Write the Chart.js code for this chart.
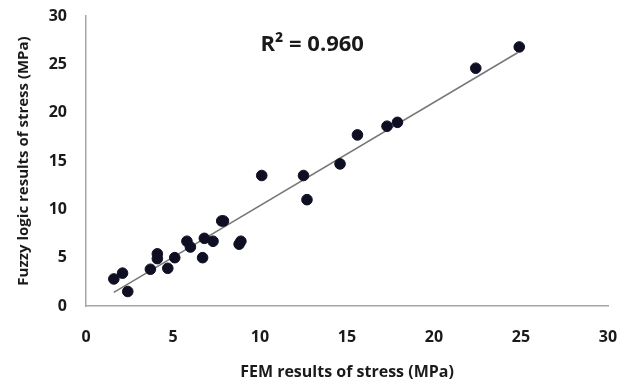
<!DOCTYPE html>
<html>
<head>
<meta charset="utf-8">
<script src="https://cdn.jsdelivr.net/npm/chart.js@4/dist/chart.umd.min.js"></script>
<style>
  html, body { margin: 0; padding: 0; background: #fff; }
  #wrap { width: 631px; height: 387px; position: relative; }
</style>
</head>
<body>
<div id="wrap"><canvas id="grafico"></canvas></div>
<script>
// FEM vs fuzzy logic stress (MPa)
const femStress = [1.6, 2.1, 2.4, 3.7, 4.1, 4.1, 4.7, 5.1, 5.8, 6.0, 6.7, 6.8, 7.3, 7.8, 7.9, 8.8, 8.9, 10.1, 12.5, 12.7, 14.6, 15.6, 17.3, 17.9, 22.4, 24.9];
const fuzzyStress = [2.8, 3.4, 1.5, 3.8, 5.4, 4.9, 3.9, 5.0, 6.7, 6.1, 5.0, 7.0, 6.7, 8.8, 8.8, 6.4, 6.7, 13.5, 13.5, 11.0, 14.7, 17.7, 18.6, 19.0, 24.6, 26.8];

// linear trendline ends
const trendX = [1.6, 24.8];
const trendY = [1.4, 26.2];

const xTicks = [0, 5, 10, 15, 20, 25, 30];
const yTicks = [0, 5, 10, 15, 20, 25, 30];

const r2Text = 'R² = 0.960';
const r2At = { x: 13, y: 27 };

const fonte = '"Open Sans", Lato, sans-serif';

const pontos = femStress.map((x, i) => ({ x: x, y: fuzzyStress[i] }));
const linha = trendX.map((x, i) => ({ x: x, y: trendY[i] }));

const textoR2 = {
    id: 'textoR2',
    afterDatasetsDraw(chart) {
        const ctx = chart.ctx;
        const px = chart.scales.x.getPixelForValue(r2At.x);
        const py = chart.scales.y.getPixelForValue(r2At.y);
        ctx.save();
        ctx.fillStyle = '#1a1a1a';
        ctx.font = 'bold 22px ' + fonte;
        ctx.textAlign = 'center';
        ctx.textBaseline = 'middle';
        ctx.fillText(r2Text, px, py);
        ctx.restore();
    }
};

new Chart(document.getElementById('grafico'), {
    type: 'scatter',
    data: {
        datasets: [
            {
                label: 'Stress',
                data: pontos,
                backgroundColor: '#0e0f22',
                borderColor: '#0e0f22',
                pointRadius: 5.3,
                pointHoverRadius: 5.3
            },
            {
                type: 'line',
                label: 'Trend',
                data: linha,
                borderColor: '#777777',
                borderWidth: 1.5,
                pointRadius: 0,
                fill: false
            }
        ]
    },
    options: {
        responsive: true,
        maintainAspectRatio: false,
        animation: false,
        layout: { padding: 0 },
        plugins: {
            legend: { display: false },
            tooltip: { enabled: false }
        },
        scales: {
            x: {
                type: 'linear',
                min: 0,
                max: 30,
                afterBuildTicks: s => { s.ticks = xTicks.map(v => ({ value: v })); },
                afterFit: s => { s.height = 81; s.paddingRight = 23; s.paddingLeft = 0; },
                grid: { display: false, drawTicks: false },
                border: { display: true, color: '#a6a6a6', width: 1.5 },
                ticks: {
                    padding: 22,
                    color: '#1a1a1a',
                    font: { family: fonte, size: 16, weight: 'bold' }
                },
                title: {
                    display: true,
                    text: 'FEM results of stress (MPa)',
                    color: '#1a1a1a',
                    font: { family: fonte, size: 16, weight: 'bold' },
                    padding: { top: 0, bottom: 5 }
                }
            },
            y: {
                type: 'linear',
                min: 0,
                max: 30,
                afterBuildTicks: s => { s.ticks = yTicks.map(v => ({ value: v })); },
                afterFit: s => { s.width = 86; s.paddingTop = 16; s.paddingBottom = 0; },
                grid: { display: false, drawTicks: false },
                border: { display: true, color: '#a6a6a6', width: 1.5 },
                ticks: {
                    padding: 19,
                    color: '#1a1a1a',
                    font: { family: fonte, size: 16, weight: 'bold' }
                },
                title: {
                    display: true,
                    text: 'Fuzzy logic results of stress (MPa)',
                    color: '#1a1a1a',
                    font: { family: fonte, size: 15, weight: 'bold' },
                    padding: { top: 15, bottom: 0 }
                }
            }
        }
    },
    plugins: [textoR2]
});
</script>
</body>
</html>
